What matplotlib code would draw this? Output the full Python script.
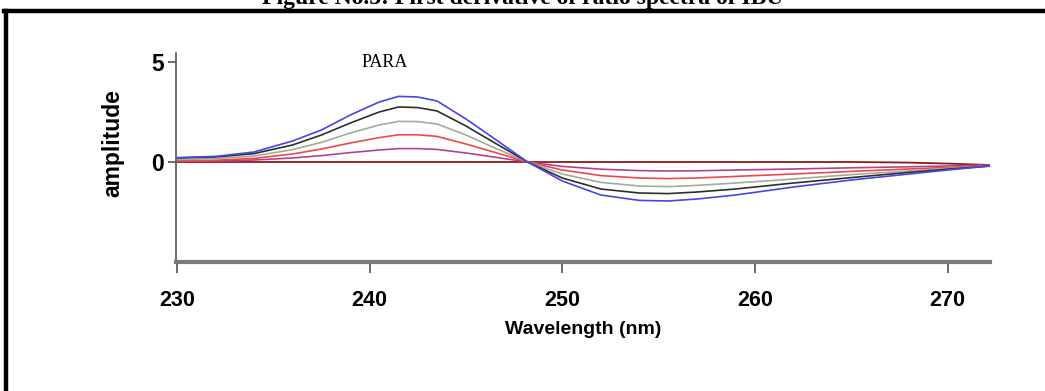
import matplotlib
matplotlib.use("Agg")
import matplotlib.pyplot as plt
from matplotlib.lines import Line2D

# wavelength grid (nm) and first-derivative ratio spectra
wavelength = [230, 232, 234, 236, 237.5, 239, 240.5, 241.5, 242.5, 243.5, 245, 246.5,
              248.2, 250, 252, 254, 255.5, 257, 259, 262, 265, 268, 270, 272.2]

blue = [0.22, 0.28, 0.5, 1.05, 1.6, 2.35, 3.0, 3.28, 3.25, 3.05, 2.15, 1.15,
        0.0, -0.95, -1.65, -1.92, -1.95, -1.85, -1.65, -1.25, -0.9, -0.6, -0.4, -0.2]
black = [0.2, 0.25, 0.42, 0.85, 1.35, 1.95, 2.5, 2.75, 2.72, 2.55, 1.8, 0.95,
         0.0, -0.8, -1.35, -1.55, -1.58, -1.5, -1.35, -1.05, -0.78, -0.52, -0.36, -0.2]
gray = [0.12, 0.17, 0.3, 0.62, 0.98, 1.45, 1.85, 2.03, 2.02, 1.9, 1.35, 0.7,
        0.0, -0.6, -1.02, -1.2, -1.23, -1.17, -1.05, -0.85, -0.63, -0.45, -0.32, -0.2]
red = [0.06, 0.09, 0.18, 0.4, 0.65, 0.95, 1.22, 1.36, 1.36, 1.28, 0.9, 0.48,
       0.0, -0.4, -0.68, -0.8, -0.83, -0.8, -0.72, -0.6, -0.47, -0.35, -0.27, -0.18]
purple = [0.04, 0.05, 0.1, 0.2, 0.32, 0.47, 0.6, 0.67, 0.67, 0.63, 0.45, 0.24,
          0.0, -0.22, -0.36, -0.43, -0.45, -0.44, -0.4, -0.35, -0.29, -0.24, -0.2, -0.15]
blank = [0.0, 0.0, 0.0, 0.0, 0.0, 0.0, 0.0, 0.0, 0.0, 0.0, 0.0, 0.0,
         0.0, 0.0, 0.0, 0.0, 0.0, 0.0, 0.0, 0.0, 0.0, -0.03, -0.08, -0.15]

xticks = [230, 240, 250, 260, 270]
yticks = [0, 5]

sans = ["Liberation Sans", "DejaVu Sans"]
serif = ["Liberation Serif", "DejaVu Serif"]

fig = plt.figure(figsize=(10.45, 3.91), dpi=100)
ax = fig.add_axes([0.1684, 0.3299, 0.779, 0.5346])

ax.plot(wavelength, blank, color="#8b1a1a", lw=1.3)
ax.plot(wavelength, purple, color="#b0448c", lw=1.2)
ax.plot(wavelength, red, color="#f04848", lw=1.2)
ax.plot(wavelength, gray, color="#a4ab98", lw=1.2)
ax.plot(wavelength, black, color="#2e2e2e", lw=1.2)
ax.plot(wavelength, blue, color="#4646e6", lw=1.2)

ax.set_xlim(229.95, 272.2)
ax.set_ylim(-5.0, 5.45)
ax.set_xticks(xticks)
ax.set_yticks(yticks)
ax.set_xticklabels([str(t) for t in xticks], family=sans, fontweight="bold", fontsize=15.5)
ax.set_yticklabels([str(t) for t in yticks], family=sans, fontweight="bold", fontsize=16.5)
ax.tick_params(axis="x", direction="out", length=8, width=1.2, color="#505050", pad=12)
ax.tick_params(axis="y", direction="out", length=6, width=1.2, color="#505050", pad=3)

for s in ["top", "right"]:
    ax.spines[s].set_visible(False)
ax.spines["left"].set_color("#606060")
ax.spines["left"].set_linewidth(1.3)
ax.spines["bottom"].set_color("#7a7a7a")
ax.spines["bottom"].set_linewidth(3)

ax.set_xlabel("Wavelength (nm)", family=sans, fontweight="bold", fontsize=14, labelpad=7)
ax.set_ylabel("amplitude", family=sans, fontweight="bold", fontsize=16.5)
ax.yaxis.set_label_coords(-0.063, 0.57)

ax.text(240.8, 4.95, "PARA", family=serif, fontsize=13, ha="center", va="center")

# outer frame and clipped caption
fig.add_artist(Line2D([4 / 1045, 1], [1 - 10.5 / 391] * 2, color="black", lw=3.2))
fig.add_artist(Line2D([5.5 / 1045] * 2, [0, 1 - 10.5 / 391], color="black", lw=3.2))
fig.text(0.5, 1 - 4 / 391, "Figure No.5: First derivative of ratio spectra of IBU",
         family=serif, fontweight="bold", fontsize=17, ha="center", va="baseline")

fig.savefig("out.png", dpi=100)
